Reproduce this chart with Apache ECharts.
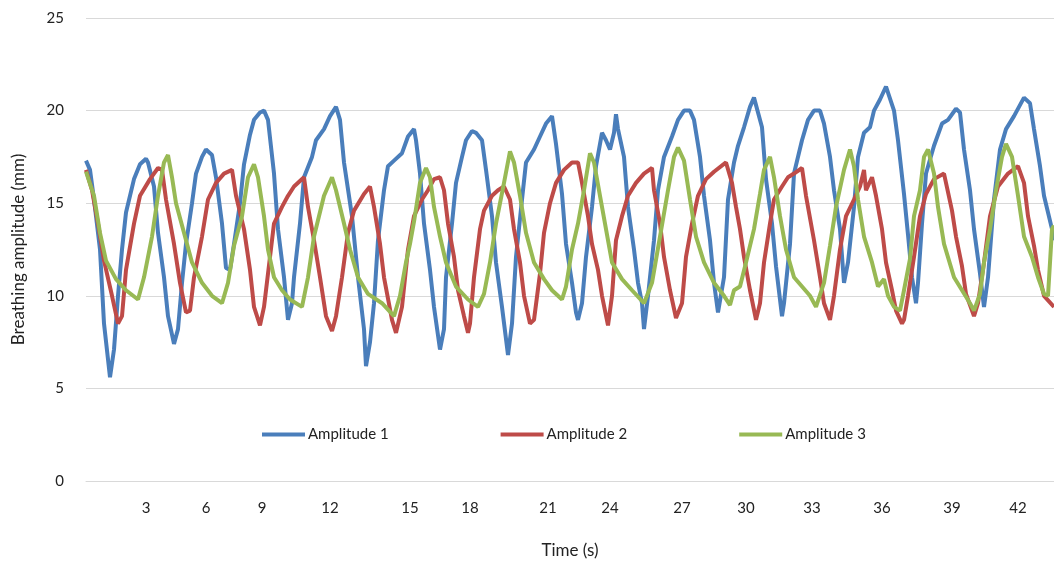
<!DOCTYPE html>
<html>
<head>
<meta charset="utf-8">
<title>Breathing amplitude</title>
<script src="https://cdn.jsdelivr.net/npm/echarts@6/dist/echarts.min.js"></script>
<style>
  html, body { margin: 0; padding: 0; background: #fff; }
  #chart { width: 1054px; height: 568px; }
</style>
</head>
<body>
<div id="chart"></div>
<script>
// sample count on the category axis (one category per recorded sample)
var sampleCount = 485
// time tick labels and the sample they sit on
var tickLabels = ['3', '6', '9', '12', '15', '18', '21', '24', '27', '30', '33', '36', '39', '42']
var tickSamples = [30, 60, 88, 122, 162, 192, 231, 262, 298, 330, 363, 398, 433, 466]

var seriesNames = ['Amplitude 1', 'Amplitude 2', 'Amplitude 3']

// [sample, amplitude mm]
var amp1 = [[0,17.3],[2,16.8],[4,15.2],[7,12.5],[9,8.5],[12,5.6],[14,7.1],[16,10.0],[18,12.5],[20,14.5],[24,16.3],[27,17.1],[30,17.4],[31,17.2],[34,15.9],[36,13.4],[39,11.0],[41,8.9],[44,7.4],[46,8.2],[48,10.7],[50,12.8],[53,15.0],[55,16.6],[58,17.5],[60,17.9],[63,17.6],[65,16.4],[68,13.9],[70,11.5],[72,11.4],[74,12.8],[77,15.0],[79,17.1],[82,18.7],[84,19.5],[87,19.9],[89,20.0],[91,19.5],[94,16.6],[96,13.6],[99,11.0],[101,8.7],[103,9.6],[104,11.0],[107,13.9],[109,16.4],[113,17.5],[115,18.4],[119,19.0],[122,19.7],[125,20.2],[127,19.5],[129,17.2],[133,14.3],[136,11.0],[139,8.2],[140,6.2],[142,7.5],[144,9.6],[146,13.0],[149,15.7],[151,17.0],[154,17.3],[158,17.7],[161,18.6],[164,19.0],[165,18.4],[167,16.6],[169,13.9],[172,11.4],[174,9.4],[177,7.1],[179,8.2],[180,11.0],[183,13.9],[185,16.1],[188,17.5],[190,18.4],[193,18.9],[195,18.8],[198,18.4],[200,16.8],[203,14.3],[205,11.8],[208,9.4],[211,6.8],[213,8.5],[215,12.1],[218,15.2],[220,17.2],[224,17.9],[227,18.6],[230,19.3],[233,19.7],[235,18.2],[238,15.5],[240,12.8],[243,10.7],[245,9.1],[246,8.7],[248,9.6],[250,12.1],[253,14.8],[255,17.0],[258,18.8],[260,18.4],[262,17.9],[264,18.8],[265,19.8],[266,19.0],[269,17.5],[271,14.8],[274,12.5],[276,10.7],[278,9.6],[279,8.2],[281,10.0],[284,13.0],[286,15.7],[289,17.5],[293,18.6],[296,19.5],[299,20.0],[302,20.0],[304,19.5],[307,17.5],[309,15.4],[312,13.0],[314,10.7],[316,9.1],[319,11.0],[321,15.2],[324,17.2],[326,18.1],[329,19.1],[332,20.2],[334,20.7],[336,19.9],[338,19.1],[340,16.3],[343,13.9],[345,11.6],[348,8.9],[349,9.6],[352,12.8],[354,16.6],[358,18.4],[361,19.5],[364,20.0],[367,20.0],[369,19.3],[372,17.5],[374,15.7],[377,13.6],[379,10.7],[381,11.8],[384,14.8],[386,17.5],[389,18.8],[392,19.1],[394,20.0],[397,20.6],[400,21.3],[404,20.0],[406,18.4],[409,15.5],[411,13.3],[413,11.0],[415,9.6],[416,10.7],[418,13.9],[420,16.6],[424,18.1],[428,19.3],[431,19.5],[435,20.1],[437,19.9],[439,17.9],[442,15.7],[444,13.6],[447,11.2],[449,9.4],[451,11.0],[454,15.2],[457,17.9],[460,19.0],[464,19.7],[469,20.7],[472,20.4],[474,19.0],[477,17.0],[479,15.4],[483,13.6],[484,13.0]]

var amp2 = [[0,16.8],[3,15.7],[6,13.9],[9,11.9],[13,10.0],[16,8.5],[18,8.9],[20,11.4],[24,13.9],[27,15.4],[32,16.3],[36,16.9],[38,16.8],[40,15.2],[44,12.8],[47,10.7],[50,9.1],[52,9.2],[54,11.0],[58,13.2],[61,15.2],[65,16.1],[69,16.6],[73,16.8],[75,15.4],[79,13.6],[82,11.4],[84,9.4],[87,8.4],[89,9.4],[92,12.1],[94,13.9],[98,14.8],[101,15.4],[104,15.9],[109,16.4],[111,14.8],[114,13.0],[117,11.0],[120,8.9],[123,8.1],[125,8.9],[128,11.0],[131,13.4],[134,14.6],[139,15.5],[142,15.9],[144,14.8],[147,12.8],[149,11.0],[153,8.7],[155,8.0],[158,9.4],[161,12.5],[164,14.3],[168,15.2],[171,15.7],[174,16.3],[177,16.4],[179,15.7],[181,13.9],[184,12.1],[186,10.3],[189,8.9],[191,8.0],[192,8.5],[194,11.0],[197,13.6],[199,14.6],[203,15.4],[206,15.7],[209,15.9],[212,15.2],[214,13.6],[217,11.8],[219,10.0],[222,8.5],[224,8.7],[227,11.2],[229,13.4],[232,15.0],[235,16.1],[239,16.8],[243,17.2],[246,17.2],[247,17.1],[248,16.1],[251,14.3],[253,12.8],[256,11.4],[258,10.0],[261,8.4],[263,10.0],[265,13.0],[268,14.3],[271,15.4],[275,16.1],[279,16.6],[283,16.9],[284,15.7],[287,13.9],[289,12.1],[292,10.3],[295,8.8],[298,9.6],[300,12.1],[303,13.9],[306,15.4],[310,16.3],[314,16.7],[320,17.2],[323,16.1],[325,14.8],[327,13.6],[329,12.1],[332,10.3],[335,8.7],[337,9.6],[339,11.8],[342,13.9],[344,15.2],[348,15.9],[351,16.4],[354,16.6],[358,16.9],[360,15.4],[364,13.0],[367,11.0],[369,9.6],[372,8.7],[374,10.0],[377,12.5],[380,14.3],[384,15.2],[387,15.9],[389,16.8],[390,15.7],[393,16.4],[395,15.4],[398,13.6],[400,11.8],[403,10.3],[405,9.2],[408,8.5],[409,8.7],[411,10.0],[414,12.1],[417,14.3],[420,15.5],[424,16.3],[429,16.6],[430,16.1],[433,14.6],[435,13.2],[438,11.6],[440,10.1],[444,8.9],[446,9.6],[449,11.8],[452,14.3],[456,15.9],[461,16.6],[466,17.0],[469,16.1],[471,14.3],[474,12.7],[476,11.4],[479,10.0],[484,9.4]]

var amp3 = [[0,16.7],[4,15.4],[7,13.4],[10,11.9],[15,10.9],[20,10.3],[26,9.8],[29,11.0],[33,13.2],[36,15.4],[39,17.2],[41,17.6],[43,16.4],[45,15.0],[49,13.4],[53,11.8],[58,10.7],[63,10.0],[68,9.6],[71,10.7],[74,12.7],[78,14.3],[81,16.4],[84,17.1],[86,16.4],[89,14.3],[91,12.5],[94,11.0],[98,10.3],[102,9.8],[108,9.4],[111,11.0],[114,13.2],[119,15.4],[123,16.4],[125,15.7],[129,13.9],[132,12.5],[136,11.0],[141,10.1],[148,9.6],[154,8.9],[157,10.0],[160,11.8],[162,12.8],[164,14.0],[167,16.1],[170,16.9],[172,16.4],[174,14.8],[177,13.2],[180,11.8],[185,10.5],[191,9.8],[196,9.4],[199,10.1],[202,11.8],[205,13.9],[209,16.1],[212,17.8],[214,17.2],[217,15.4],[220,13.4],[224,11.8],[229,10.9],[233,10.3],[238,9.8],[240,10.5],[243,12.5],[246,13.9],[249,15.7],[252,17.7],[254,17.2],[257,15.4],[260,13.6],[263,11.8],[268,10.9],[273,10.3],[279,9.6],[283,10.7],[287,13.2],[291,15.7],[294,17.5],[296,18.0],[299,17.3],[302,15.2],[305,13.2],[309,11.8],[314,10.7],[319,10.0],[322,9.5],[324,10.3],[327,10.5],[330,11.8],[334,13.6],[337,15.5],[339,16.8],[342,17.5],[344,16.4],[347,14.3],[350,12.5],[354,11.0],[358,10.5],[362,10.0],[365,9.4],[369,10.7],[372,12.7],[375,14.8],[379,16.8],[382,17.9],[384,17.0],[386,15.2],[389,13.2],[393,11.8],[396,10.5],[399,10.9],[401,10.0],[404,9.4],[407,9.2],[409,10.3],[412,12.0],[414,14.3],[417,15.7],[419,17.5],[421,17.9],[424,16.6],[426,14.8],[429,12.8],[434,11.0],[438,10.3],[442,9.6],[444,9.2],[447,10.1],[449,11.8],[452,13.6],[455,15.7],[458,17.5],[460,18.2],[463,17.5],[466,15.4],[469,13.2],[473,12.1],[476,11.0],[479,10.1],[481,10.0],[483,13.6],[484,13.8]]

var colors = ['#4a7ebb', '#be4b48', '#98b954']

// category labels: empty except where a time tick sits
var categories = []
for (var i = 0; i < sampleCount; i++) {
  categories.push('')
}
for (var j = 0; j < tickSamples.length; j++) {
  categories[tickSamples[j]] = tickLabels[j]
}

var font = 'Lato, "Open Sans", sans-serif'
var myChart = echarts.init(document.getElementById('chart'), null, {renderer: 'canvas'})

var option = {
  animation: false,
  color: colors,
  grid: {
    left: 86,
    right: 0,
    top: 18,
    bottom: 87,
    containLabel: false
  },
  legend: {
    top: 422,
    left: 257,
    icon: 'rect',
    itemGap: 112,
    itemWidth: 43,
    itemHeight: 4,
    textStyle: {fontFamily: font, fontSize: 15, color: '#222', padding: [0, 0, 0, -2]},
    data: seriesNames
  },
  xAxis: {
    type: 'category',
    boundaryGap: false,
    data: categories,
    name: 'Time (s)',
    nameLocation: 'middle',
    nameGap: 61,
    nameTextStyle: {fontFamily: font, fontSize: 17, color: '#222'},
    axisLine: {show: true, lineStyle: {color: '#d9d9d9'}},
    axisTick: {show: false},
    axisLabel: {
      interval: function (idx, val) { return val !== '' },
      margin: 20,
      fontFamily: font,
      fontSize: 15,
      color: '#222'
    },
    splitLine: {show: false}
  },
  yAxis: {
    type: 'value',
    min: 0,
    max: 25,
    interval: 5,
    name: 'Breathing amplitude (mm)',
    nameLocation: 'middle',
    nameGap: 59,
    nameTextStyle: {fontFamily: font, fontSize: 17, color: '#222'},
    axisLine: {show: false},
    axisTick: {show: false},
    axisLabel: {margin: 22, fontFamily: font, fontSize: 15, color: '#222'},
    splitLine: {lineStyle: {color: '#d9d9d9', width: 1}}
  },
  series: [
    {name: seriesNames[0], type: 'line', data: amp1, symbol: 'none', lineStyle: {width: 4}},
    {name: seriesNames[1], type: 'line', data: amp2, symbol: 'none', lineStyle: {width: 4}},
    {name: seriesNames[2], type: 'line', data: amp3, symbol: 'none', lineStyle: {width: 4}}
  ]
}
myChart.setOption(option, true)
</script>
</body>
</html>
